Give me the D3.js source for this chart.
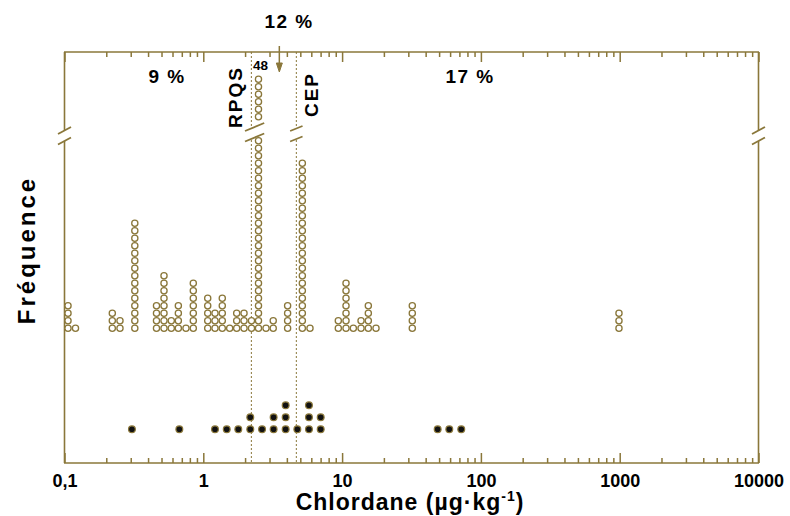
<!DOCTYPE html>
<html><head><meta charset="utf-8">
<script src="https://cdn.jsdelivr.net/npm/d3@7"></script>
<style>
html,body{margin:0;padding:0;background:#fff;}
svg text{font-family:"Liberation Sans Narrow","Arial Narrow","Liberation Sans",Arial,sans-serif;font-weight:bold;fill:#000;}
</style></head>
<body>
<svg id="chart" width="790" height="516"></svg>
<script>
// ---- data ----
const topValues = [0.106,0.120,0.221,0.251,0.321,0.460,0.521,0.588,0.661,0.750,0.847,1.076,1.214,1.370,1.549,1.740,1.965,2.224,2.498,2.83,3.19,4.05,5.17,5.87,9.39,10.67,12.05,13.69,15.45,17.55,32.04,988];
const topCounts = [4,1,3,2,15,4,8,2,4,1,7,5,3,5,1,3,3,2,48,1,2,4,23,1,2,7,1,2,4,1,4,3];
const bottomValues = [0.306,0.672,1.214,1.475,1.787,2.18,2.65,3.21,3.92,4.76,5.77,7.01,48.8,59.2,72.2];
const bottomCounts = [1,1,1,1,1,2,1,2,3,1,3,2,1,1,1];
const majorTicks = [0.1,1,10,100,1000,10000];
const tickLabels = ["0,1","1","10","100","1000","10000"];
const thresholdNames = ["RPQS","CEP"];
const thresholdValues = [2.22,4.68];
const pctLabels = ["9 %","12 %","17 %"];
const pctValues = [0.548,4.15,83.6];
const arrowValue = 3.53;
const maxLabelValue = 2.498; // column labelled "48"

// ---- layout ----
const W = 790, H = 516;
const L = 64.5, R = 758.5, T = 52, B = 463;
const col = "#8a773a";
const svg = d3.select("#chart");

const x = d3.scaleLog().domain([0.1,10000]).range([L,R]);
// broken frequency scale for upper dot plot
const yTop = d3.scaleLinear().domain([0,26,42,48]).range([332.05,137.05,120.55,75.55]);
const yBot = d3.scaleLinear().domain([0,3]).range([435.3,399.3]);

// minor ticks
const minorTicks = [];
for (let e=-1;e<4;e++) for (let m=2;m<10;m++) minorTicks.push(m*Math.pow(10,e));

// bottom axis
const gB = svg.append("g").attr("transform",`translate(0,${B})`);
gB.call(d3.axisBottom(x).tickValues(majorTicks).tickFormat((d,i)=>tickLabels[i]).tickSizeInner(-10).tickSizeOuter(0).tickPadding(11));
gB.append("g").call(d3.axisBottom(x).tickValues(minorTicks).tickFormat("").tickSizeInner(-5).tickSizeOuter(0));
gB.selectAll(".domain").remove();
gB.selectAll("line").attr("stroke",col).attr("stroke-width",1.5);
gB.selectAll("text").style("font-size","18px").attr("fill","#000");

// top axis
const gT = svg.append("g").attr("transform",`translate(0,${T})`);
gT.call(d3.axisTop(x).tickValues(majorTicks).tickFormat("").tickSizeInner(-10).tickSizeOuter(0));
gT.append("g").call(d3.axisTop(x).tickValues(minorTicks).tickFormat("").tickSizeInner(-5).tickSizeOuter(0));
gT.selectAll(".domain").remove();
gT.selectAll("line").attr("stroke",col).attr("stroke-width",1.5);

// frame
const frame = svg.append("g").attr("stroke",col).attr("stroke-width",1.6).attr("fill","none");
frame.append("line").attr("x1",L-0.5).attr("x2",R+0.5).attr("y1",T).attr("y2",T);
frame.append("line").attr("x1",L-0.5).attr("x2",R+0.5).attr("y1",B).attr("y2",B);
frame.append("line").attr("x1",L).attr("x2",L).attr("y1",T).attr("y2",B);
frame.append("line").attr("x1",R).attr("x2",R).attr("y1",T).attr("y2",B);

// threshold dotted lines
thresholdValues.forEach(v=>{
  svg.append("line").attr("x1",x(v)).attr("x2",x(v)).attr("y1",T).attr("y2",B)
    .attr("stroke",col).attr("stroke-width",1).attr("stroke-dasharray","2,2");
});

// upper dots (open circles)
const topDots = [];
topValues.forEach((v,i)=>{
  for (let k=0;k<topCounts[i];k++){
    if (topCounts[i]===48 && k>=26 && k<42) continue;
    topDots.push({v,k});
  }
});
svg.append("g").selectAll("circle").data(topDots).join("circle")
  .attr("cx",d=>x(d.v)).attr("cy",d=>yTop(d.k+0.5)).attr("r",3.1)
  .attr("fill","#fff").attr("stroke",col).attr("stroke-width",1.3);

// lower dots (filled)
const botDots = [];
bottomValues.forEach((v,i)=>{ for (let k=0;k<bottomCounts[i];k++) botDots.push({v,k}); });
svg.append("g").selectAll("circle").data(botDots).join("circle")
  .attr("cx",d=>x(d.v)).attr("cy",d=>yBot(d.k+0.5)).attr("r",3.4)
  .attr("fill","#111").attr("stroke",col).attr("stroke-width",1.2);

// break marks
function brk(cx, cy, hw, slope){
  const g = svg.append("g");
  const gap = 10.5;
  g.append("path").attr("d",`M${cx-hw},${cy-slope*(-hw)} L${cx+hw},${cy-slope*hw} L${cx+hw},${cy-slope*hw+gap} L${cx-hw},${cy-slope*(-hw)+gap} Z`)
   .attr("fill","#fff");
  [0,gap].forEach(o=>{
    g.append("line").attr("x1",cx-hw).attr("y1",cy+slope*hw+o).attr("x2",cx+hw).attr("y2",cy-slope*hw+o)
     .attr("stroke",col).attr("stroke-width",1.8);
  });
}
brk(L,130.5,6.5,0.55);
brk(R,130.5,6.5,0.55);
brk(254.6,127,9.6,0.42);
brk(x(thresholdValues[1]),128.5,6.2,0.4);

// arrow
const ax = x(arrowValue);
svg.append("line").attr("x1",ax).attr("x2",ax).attr("y1",46).attr("y2",66).attr("stroke",col).attr("stroke-width",1.5);
svg.append("path").attr("d",`M${ax-3},${63} L${ax+3},${63} L${ax},${72} Z`).attr("fill",col).attr("stroke",col).attr("stroke-width",1);

// texts
svg.append("text").attr("x",x(pctValues[0])).attr("y",83).attr("text-anchor","middle").style("font-size","19px").style("letter-spacing","1.5px").text(pctLabels[0]);
svg.append("text").attr("x",x(pctValues[1])).attr("y",28).attr("text-anchor","middle").style("font-size","19px").style("letter-spacing","1.5px").text(pctLabels[1]);
svg.append("text").attr("x",x(pctValues[2])).attr("y",83).attr("text-anchor","middle").style("font-size","19px").style("letter-spacing","1.5px").text(pctLabels[2]);
svg.append("text").attr("x",x(maxLabelValue)+2).attr("y",69.5).attr("text-anchor","middle").style("font-size","13.5px").text("48");
svg.append("text").attr("transform",`translate(242,97) rotate(-90)`).attr("text-anchor","middle").style("font-size","19px").style("letter-spacing","2px").text(thresholdNames[0]);
svg.append("text").attr("transform",`translate(318,94.5) rotate(-90)`).attr("text-anchor","middle").style("font-size","19px").style("letter-spacing","2px").text(thresholdNames[1]);

// axis titles
svg.append("text").attr("transform","translate(35,250) rotate(-90)").attr("text-anchor","middle").style("font-size","24px").style("letter-spacing","3px").text("Fréquence");
const xt = svg.append("text").attr("x",410).attr("y",510).attr("text-anchor","middle").style("font-size","23px").style("letter-spacing","1px");
xt.append("tspan").text("Chlordane (µg·kg");
xt.append("tspan").attr("dy",-9).style("font-size","14px").text("-1");
xt.append("tspan").attr("dy",9).text(")");
</script>
</body></html>
